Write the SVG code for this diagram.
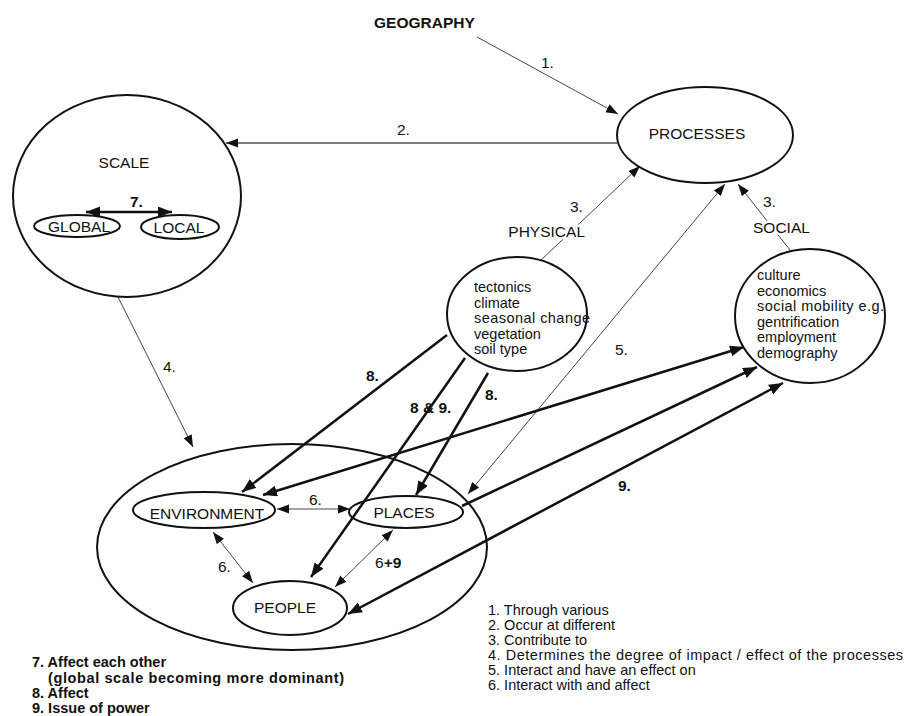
<svg xmlns="http://www.w3.org/2000/svg" width="906" height="716" viewBox="0 0 906 716">
<style>
text{font-family:"Liberation Sans",Arial,sans-serif;font-size:15.5px;fill:#111}
.s{font-size:14.5px}
.b{font-weight:bold}
.c{text-anchor:middle}
.node{fill:none;stroke:#111;stroke-width:2}
.thin{fill:none;stroke:#444;stroke-width:1}
.mid{fill:none;stroke:#555;stroke-width:1.5}
.bold{fill:none;stroke:#111;stroke-width:2.5}
.halo{stroke:#fff;stroke-width:5;paint-order:stroke;stroke-linejoin:round}
</style>
<defs>
<marker id="ah" markerUnits="userSpaceOnUse" markerWidth="13" markerHeight="10" refX="12" refY="4.5" orient="auto-start-reverse"><path d="M0,0 L12,4.5 L0,9 z" fill="#111"/></marker>
<marker id="ahb" markerUnits="userSpaceOnUse" markerWidth="15" markerHeight="12" refX="14" refY="5.5" orient="auto-start-reverse"><path d="M0,0 L14,5.5 L0,11 z" fill="#111"/></marker>
</defs>
<rect width="906" height="716" fill="#fff"/>

<g id="connectors">
<line class="thin" x1="477" y1="37" x2="618" y2="114" marker-end="url(#ah)"/>
<line class="mid" x1="617" y1="143" x2="226" y2="143" marker-end="url(#ah)"/>
<line class="thin" x1="540" y1="261" x2="640" y2="166" marker-end="url(#ah)"/>
<line class="thin" x1="790" y1="250" x2="738" y2="184" marker-end="url(#ah)"/>
<line class="thin" x1="118" y1="297" x2="193" y2="447" marker-end="url(#ah)"/>
<line class="thin" x1="468" y1="494" x2="725" y2="184" marker-start="url(#ah)" marker-end="url(#ah)"/>
<line class="bold" x1="86" y1="212" x2="172" y2="212" marker-start="url(#ahb)" marker-end="url(#ahb)"/>
<line class="thin" x1="277" y1="509" x2="350" y2="509" marker-start="url(#ah)" marker-end="url(#ah)"/>
<line class="thin" x1="213" y1="532" x2="253" y2="583" marker-start="url(#ah)" marker-end="url(#ah)"/>
<line class="thin" x1="393" y1="530" x2="335" y2="587" marker-start="url(#ah)" marker-end="url(#ah)"/>
<line class="bold" x1="447" y1="335" x2="242" y2="492" marker-end="url(#ahb)"/>
<line class="bold" x1="465" y1="358" x2="311" y2="577" marker-end="url(#ahb)"/>
<line class="bold" x1="488" y1="373" x2="416" y2="495" marker-end="url(#ahb)"/>
<line class="bold" x1="263" y1="495" x2="744" y2="347" marker-start="url(#ahb)" marker-end="url(#ahb)"/>
<line class="bold" x1="462" y1="506" x2="757" y2="367" marker-end="url(#ahb)"/>
<line class="bold" x1="348" y1="614" x2="783" y2="383" marker-start="url(#ahb)" marker-end="url(#ahb)"/>
</g>

<g id="labels">
<text x="541" y="68">1.</text>
<text x="397" y="135">2.</text>
<text x="570" y="212">3.</text>
<text x="763" y="207">3.</text>
<text x="163" y="372">4.</text>
<text x="615" y="355">5.</text>
<text x="309" y="505">6.</text>
<text x="218" y="572">6.</text>
<text x="375" y="568">6<tspan class="b">+9</tspan></text>
<text class="b" x="130" y="207">7.</text>
<text class="b" x="366" y="381">8.</text>
<text class="b" x="410" y="413">8 &amp; 9.</text>
<text class="b" x="485" y="400">8.</text>
<text class="b" x="618" y="491">9.</text>
<text class="halo" x="585" y="237" text-anchor="end">PHYSICAL</text>
<text class="halo" x="753" y="233">SOCIAL</text>
</g>

<g id="geography">
<text class="b" x="374" y="28" font-size="16">GEOGRAPHY</text>
</g>

<g id="processes">
<ellipse class="node" cx="705" cy="135" rx="88" ry="48"/>
<text class="c" x="697" y="139">PROCESSES</text>
</g>

<g id="scale">
<ellipse class="node" cx="127" cy="196" rx="114" ry="101"/>
<text class="c" x="124" y="168">SCALE</text>
</g>

<g id="global">
<ellipse class="node" cx="77" cy="226" rx="43" ry="11"/>
<text class="c" x="79" y="232" font-size="16.5">GLOBAL</text>
</g>

<g id="local">
<ellipse class="node" cx="180" cy="227" rx="39" ry="12"/>
<text class="c" x="179" y="233">LOCAL</text>
</g>

<g id="physical">
<ellipse class="node" cx="517" cy="314" rx="70" ry="57"/>
<text class="s" x="474" y="292">tectonics</text>
<text class="s" x="474" y="308">climate</text>
<text class="s" x="474" y="323" textLength="116">seasonal change</text>
<text class="s" x="474" y="339">vegetation</text>
<text class="s" x="474" y="354">soil type</text>
</g>

<g id="social">
<ellipse class="node" cx="810" cy="316" rx="75" ry="67"/>
<text class="s" x="757" y="280">culture</text>
<text class="s" x="757" y="296">economics</text>
<text class="s" x="757" y="311" textLength="127">social mobility e.g.</text>
<text class="s" x="757" y="327">gentrification</text>
<text class="s" x="757" y="342">employment</text>
<text class="s" x="757" y="358">demography</text>
</g>

<g id="region">
<ellipse class="node" cx="292" cy="547" rx="195" ry="103"/>
</g>

<g id="environment">
<ellipse class="node" cx="204" cy="510" rx="71" ry="18"/>
<text class="c" x="207" y="519">ENVIRONMENT</text>
</g>

<g id="places">
<ellipse class="node" cx="406" cy="512" rx="57" ry="16"/>
<text class="c" x="404" y="518">PLACES</text>
</g>

<g id="people">
<ellipse class="node" cx="290" cy="608" rx="57" ry="27"/>
<text class="c" x="285" y="613">PEOPLE</text>
</g>

<g id="legend">
<text class="s" x="488" y="615">1. Through various</text>
<text class="s" x="488" y="630">2. Occur at different</text>
<text class="s" x="488" y="645">3. Contribute to</text>
<text class="s" x="488" y="660" textLength="415">4. Determines the degree of impact / effect of the processes</text>
<text class="s" x="488" y="675">5. Interact and have an effect on</text>
<text class="s" x="488" y="690">6. Interact with and affect</text>
<text class="s b" x="32" y="667">7. Affect each other</text>
<text class="s b" x="48" y="683" textLength="296">(global scale becoming more dominant)</text>
<text class="s b" x="32" y="698">8. Affect</text>
<text class="s b" x="32" y="713">9. Issue of power</text>
</g>
</svg>
